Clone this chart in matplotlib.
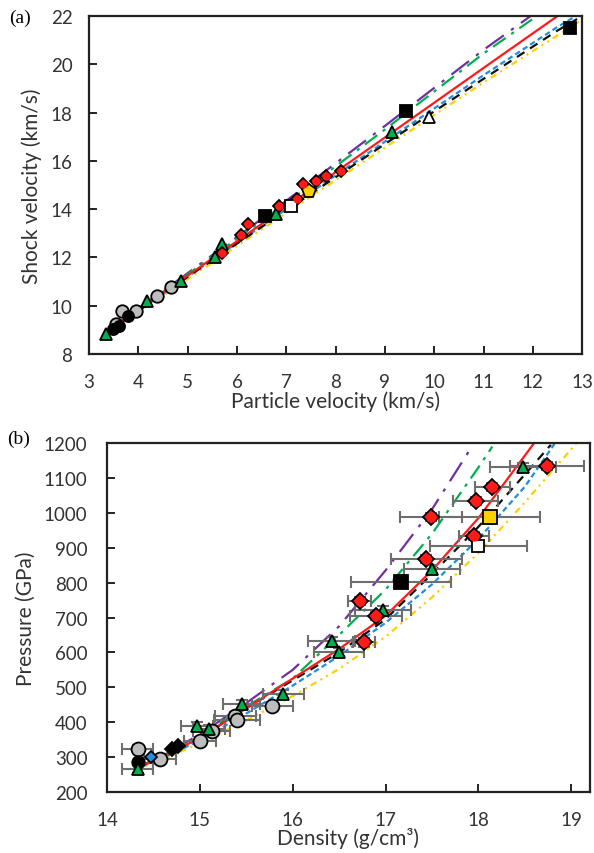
import matplotlib
matplotlib.use("Agg")
import matplotlib.pyplot as plt

# ---------------- Panel (a) data: Us vs Up ----------------
fit_up = [3.3, 5.0, 7.0, 9.0, 11.0, 12.5, 13.0]
fit_red = [8.85, 11.25, 14.1, 16.97, 19.85, 22.0, 22.7]
fit_green = [8.85, 11.3, 14.25, 17.3, 20.45, 22.6, 23.3]
fit_purple = [8.85, 11.35, 14.35, 17.45, 20.6, 22.8, 23.5]
fit_black = [8.8, 11.2, 13.95, 16.7, 19.4, 21.4, 22.0]
fit_blue = [8.8, 11.2, 14.0, 16.8, 19.55, 21.55, 22.15]
fit_yellow = [8.8, 11.1, 13.85, 16.55, 19.25, 21.2, 21.85]

a_gtri_up = [3.34, 4.17, 4.87, 5.55, 5.70, 6.80, 9.15]
a_gtri_us = [8.83, 10.2, 11.03, 12.0, 12.55, 13.8, 17.19]
a_red_up = [5.69, 6.08, 6.22, 6.86, 7.22, 7.33, 7.60, 7.80, 8.10]
a_red_us = [12.2, 12.95, 13.38, 14.13, 14.42, 15.04, 15.17, 15.37, 15.58]
a_gray_up = [3.55, 3.66, 3.96, 4.37, 4.67]
a_gray_us = [9.25, 9.79, 9.78, 10.4, 10.77]
a_blk_circ_up = [3.49, 3.60, 3.79]
a_blk_circ_us = [9.03, 9.15, 9.57]
a_blk_sq_up = [6.56, 9.42, 12.75]
a_blk_sq_us = [13.7, 18.07, 21.5]
a_open_sq_up = [7.10]
a_open_sq_us = [14.13]
a_open_tri_up = [9.89]
a_open_tri_us = [17.8]
a_yel_up = [7.46]
a_yel_us = [14.75]

# ---------------- Panel (b) data: P vs density ----------------
rho_red = [14.3, 14.7, 15.0, 15.5, 16.0, 16.5, 17.0, 17.5, 18.0, 18.6]
p_red = [265, 315, 355, 440, 525, 610, 705, 835, 985, 1200]
rho_green = [14.3, 14.7, 15.0, 15.5, 16.0, 16.5, 17.0, 17.5, 18.0, 18.15]
p_green = [265, 318, 360, 445, 525, 650, 780, 940, 1130, 1190]
rho_purple = [14.3, 14.7, 15.0, 15.5, 16.0, 16.5, 17.0, 17.5, 17.93]
p_purple = [265, 320, 365, 455, 550, 675, 835, 1010, 1190]
rho_black = [14.3, 14.7, 15.0, 15.5, 16.0, 16.5, 17.0, 17.5, 18.0, 18.5, 18.78]
p_black = [265, 315, 355, 440, 520, 600, 695, 825, 960, 1110, 1195]
rho_blue = [14.3, 14.7, 15.0, 15.5, 16.0, 16.5, 17.0, 17.5, 18.0, 18.5, 18.82]
p_blue = [265, 310, 348, 425, 505, 590, 685, 795, 925, 1075, 1198]
rho_yellow = [14.3, 14.7, 15.0, 15.5, 16.0, 16.5, 17.0, 17.5, 18.0, 18.5, 19.05]
p_yellow = [262, 305, 340, 405, 475, 553, 645, 758, 885, 1030, 1198]

b_gtri_rho = [14.33, 14.97, 15.10, 15.45, 15.90, 16.42, 16.50, 16.97, 17.50, 18.48]
b_gtri_p = [266, 390, 381, 452, 481, 633, 601, 722, 839, 1131]
b_gtri_err = [0.17, 0.17, 0.17, 0.2, 0.22, 0.25, 0.27, 0.3, 0.3, 0.36]
b_red_rho = [16.77, 16.72, 16.90, 17.44, 17.49, 17.95, 17.97, 18.15, 18.74]
b_red_p = [629, 747, 704, 867, 988, 934, 1034, 1074, 1134]
b_red_err = [0.12, 0.12, 0.28, 0.38, 0.33, 0.16, 0.24, 0.19, 0.4]
b_gray_rho = [14.33, 14.57, 15.00, 15.13, 15.38, 15.40, 15.78]
b_gray_p = [323, 294, 346, 375, 418, 405, 447]
b_gray_err = [0.17, 0.17, 0.17, 0.2, 0.22, 0.25, 0.22]
b_blk_circ_rho = [14.34]
b_blk_circ_p = [286]
b_blue_rho = [14.47]
b_blue_p = [300]
b_blk_dia_rho = [14.70, 14.76]
b_blk_dia_p = [323, 332]
b_blk_sq_rho = [17.17]
b_blk_sq_p = [801]
b_blk_sq_err = [0.54]
b_open_sq_rho = [18.00]
b_open_sq_p = [905]
b_open_sq_err = [0.52]
b_yel_rho = [18.12]
b_yel_p = [988]
b_yel_err = [0.54]

# ---------------- styling ----------------
FONT = "Lato"
C_RED = "#FF1A1A"
C_GREEN = "#00B050"
C_PURPLE = "#7030A0"
C_BLUE = "#1F8FE0"
C_YELLOW = "#FFD000"
C_BLACK = "#111111"
ERRC = "#6E6E6E"
TXT = "#333333"

plt.rcParams["font.family"] = [FONT, "DejaVu Sans"]

fig = plt.figure(figsize=(5.94, 8.54), dpi=100)
axa = fig.add_axes([0.150, 0.5843, 0.830, 0.3957])
axb = fig.add_axes([0.180, 0.0714, 0.813, 0.4086])

line_styles = [
    ("purple", C_PURPLE, (0, (10, 4, 1.5, 4))),
    ("green", C_GREEN, (0, (7, 3, 1.5, 3))),
    ("yellow", C_YELLOW, (0, (3, 2, 1, 2, 1, 2))),
    ("blue", C_BLUE, (0, (2.5, 1.5))),
    ("black", C_BLACK, (0, (4, 3))),
    ("red", C_RED, "-"),
]

fits_a = {"purple": fit_purple, "green": fit_green, "yellow": fit_yellow,
          "blue": fit_blue, "black": fit_black, "red": fit_red}
for name, col, ls in line_styles:
    axa.plot(fit_up, fits_a[name], color=col, ls=ls, lw=1.6, zorder=2)

mk = dict(markeredgecolor="black", markeredgewidth=1.3, ls="none", zorder=4)
axa.plot(a_gray_up, a_gray_us, "o", markerfacecolor="#BDBDBD", markersize=9, **mk)
axa.plot(a_blk_circ_up, a_blk_circ_us, "o", markerfacecolor="black", markersize=8, **mk)
axa.plot(a_gtri_up, a_gtri_us, "^", markerfacecolor=C_GREEN, markersize=8, **mk)
axa.plot(a_red_up, a_red_us, "D", markerfacecolor=C_RED, markersize=6.5, **mk)
axa.plot(a_red_up, a_red_us, "o", markerfacecolor=C_RED, markersize=6,
         markeredgecolor="none", ls="none", zorder=5)
axa.plot(a_blk_sq_up, a_blk_sq_us, "s", markerfacecolor="black", markersize=9, **mk)
axa.plot(a_open_sq_up, a_open_sq_us, "s", markerfacecolor="white", markersize=8, **mk)
axa.plot(a_open_tri_up, a_open_tri_us, "^", markerfacecolor="white", markersize=9, **mk)
axa.plot(a_yel_up, a_yel_us, "p", markerfacecolor=C_YELLOW, markersize=10, **mk)

axa.set_xlim(3, 13)
axa.set_ylim(8, 22)
axa.set_xticks(range(3, 14))
axa.set_yticks(range(8, 23, 2))
axa.set_xlabel("Particle velocity (km/s)", fontsize=15, labelpad=0, color=TXT)
axa.set_ylabel("Shock velocity (km/s)", fontsize=15, labelpad=6, color=TXT)

# panel b
fits_b = {"purple": (rho_purple, p_purple), "green": (rho_green, p_green),
          "yellow": (rho_yellow, p_yellow), "blue": (rho_blue, p_blue),
          "black": (rho_black, p_black), "red": (rho_red, p_red)}
for name, col, ls in line_styles:
    x, y = fits_b[name]
    axb.plot(x, y, color=col, ls=ls, lw=1.6, zorder=2)

eb = dict(fmt="none", ecolor=ERRC, elinewidth=1.5, capsize=4, capthick=1.5, zorder=3)
axb.errorbar(b_gtri_rho, b_gtri_p, xerr=b_gtri_err, yerr=12, **eb)
axb.errorbar(b_red_rho, b_red_p, xerr=b_red_err, yerr=12, **eb)
axb.errorbar(b_gray_rho, b_gray_p, xerr=b_gray_err, yerr=12, **eb)
axb.errorbar(b_blk_sq_rho, b_blk_sq_p, xerr=b_blk_sq_err, yerr=12, **eb)
axb.errorbar(b_open_sq_rho, b_open_sq_p, xerr=b_open_sq_err, yerr=15, **eb)
axb.errorbar(b_yel_rho, b_yel_p, xerr=b_yel_err, yerr=15, **eb)

axb.plot(b_gray_rho, b_gray_p, "o", markerfacecolor="#BDBDBD", markersize=10, **mk)
axb.plot(b_blk_circ_rho, b_blk_circ_p, "o", markerfacecolor="black", markersize=9, **mk)
axb.plot(b_blue_rho, b_blue_p, "D", markerfacecolor=C_BLUE, markersize=6, **mk)
axb.plot(b_blk_dia_rho, b_blk_dia_p, "D", markerfacecolor="black", markersize=7, **mk)
axb.plot(b_gtri_rho, b_gtri_p, "^", markerfacecolor=C_GREEN, markersize=9, **mk)
axb.plot(b_red_rho, b_red_p, "D", markerfacecolor=C_RED, markersize=8, **mk)
axb.plot(b_red_rho, b_red_p, "o", markerfacecolor=C_RED, markersize=7.5,
         markeredgecolor="none", ls="none", zorder=5)
axb.plot(b_blk_sq_rho, b_blk_sq_p, "s", markerfacecolor="black", markersize=10, **mk)
axb.plot(b_open_sq_rho, b_open_sq_p, "s", markerfacecolor="white", markersize=9, **mk)
axb.plot(b_yel_rho, b_yel_p, "s", markerfacecolor=C_YELLOW, markersize=10, **mk)

axb.set_xlim(14, 19.2)
axb.set_ylim(200, 1200)
axb.set_xticks(range(14, 20))
axb.set_yticks(range(200, 1201, 100))
axb.set_xlabel("Density (g/cm³)", fontsize=15, labelpad=-1, color=TXT)
axb.set_ylabel("Pressure (GPa)", fontsize=15, labelpad=6, color=TXT)

for ax in (axa, axb):
    for s in ax.spines.values():
        s.set_linewidth(1.6)
        s.set_color("#222222")
    ax.tick_params(direction="in", length=6, width=1.4, labelsize=13.5,
                   colors="#222222", labelcolor=TXT)
axa.tick_params(axis="x", pad=14)
axa.tick_params(axis="y", pad=12)
axb.tick_params(axis="x", pad=14)
axb.tick_params(axis="y", pad=14)

fig.text(0.015, 0.979, "(a)", family="Liberation Serif", fontsize=14, va="center")
fig.text(0.012, 0.485, "(b)", family="Liberation Serif", fontsize=14, va="center")

fig.savefig("out.png", dpi=100)
